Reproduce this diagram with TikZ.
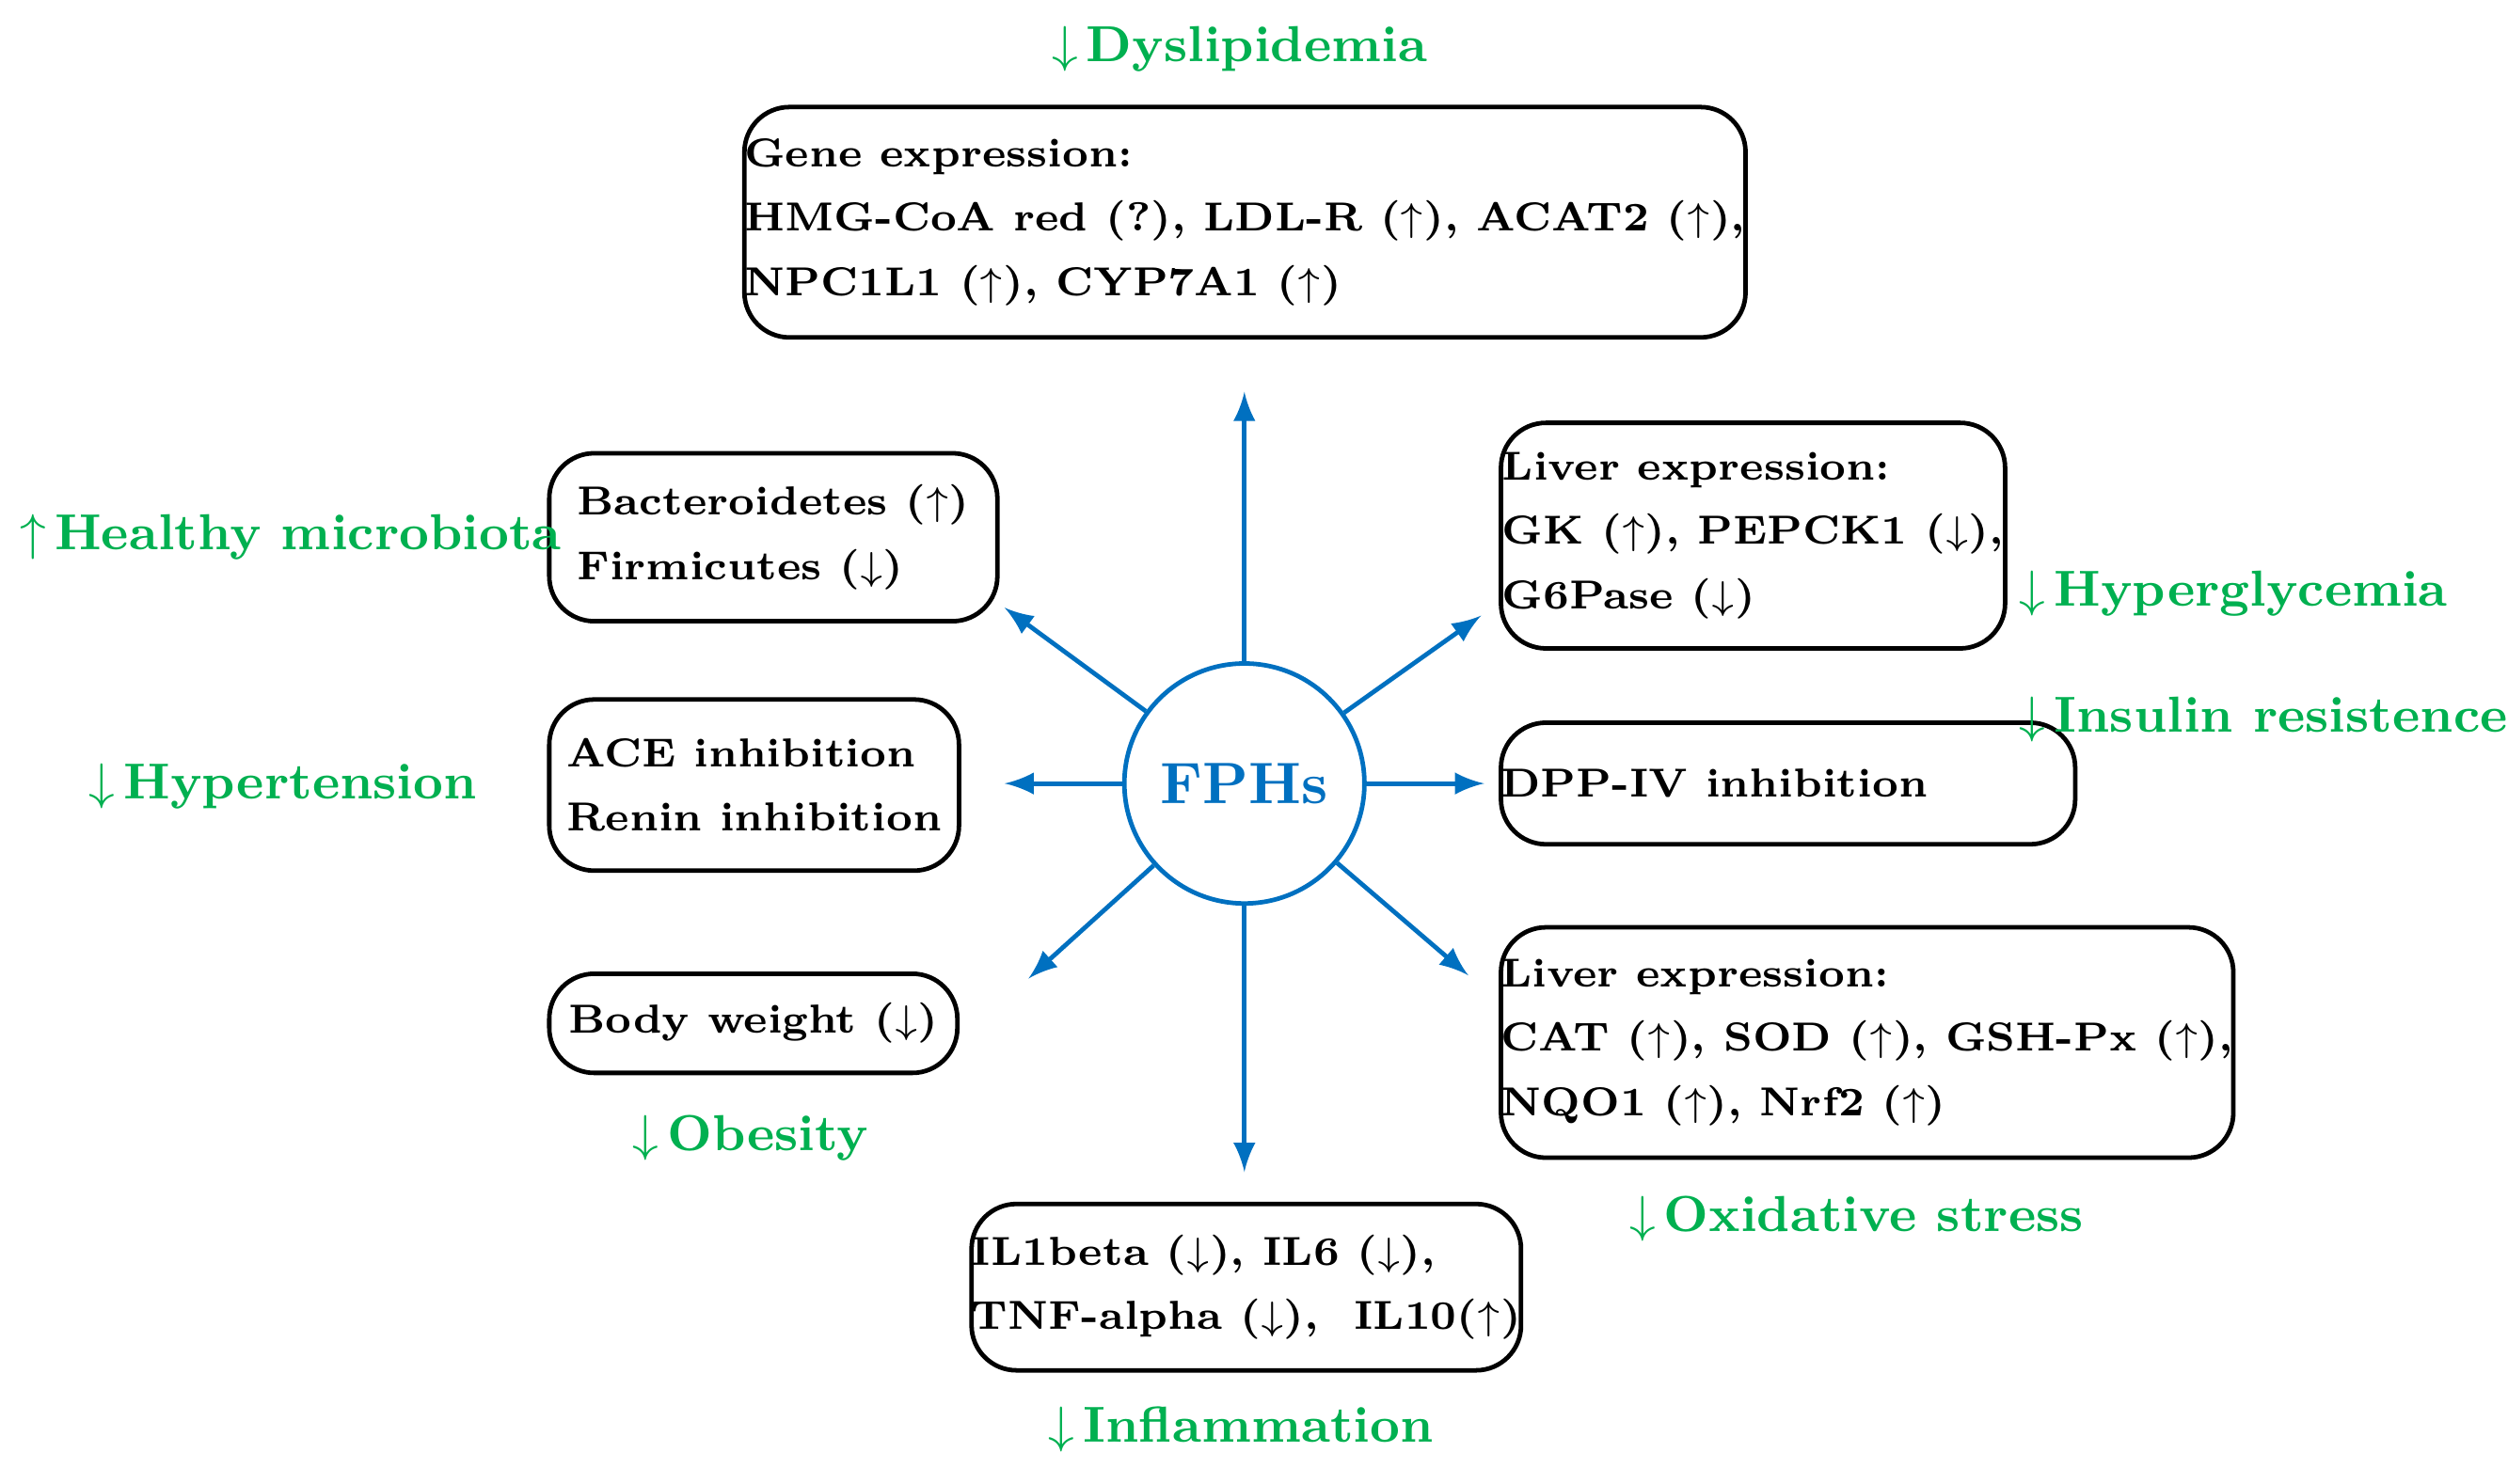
\documentclass[tikz,border=0pt]{standalone}
\usetikzlibrary{positioning}
\definecolor{fgreen}{RGB}{0,176,80}
\definecolor{fblue}{RGB}{0,112,192}
\tikzstyle{box} = [rectangle, rounded corners=8pt, draw=black, thick, anchor=west, align=left, inner sep=0pt, font=\fontsize{7.2}{11.4}\selectfont\bfseries]
\tikzstyle{effect} = [text=fgreen, inner sep=0pt, font=\fontsize{9}{12}\selectfont\bfseries]
\tikzstyle{arrow} = [fblue, thick, -latex]
\newcommand{\up}{$\uparrow$}
\newcommand{\dn}{$\downarrow$}

\begin{document}
\begin{tikzpicture}[x=0.01cm, y=-0.01cm]
\useasboundingbox (0,0) rectangle (1568,928);
%中心
\node (FPH) [circle, draw=fblue, thick, minimum size=1.5cm, inner sep=0pt, text=fblue, font=\fontsize{10.4}{12}\selectfont\bfseries] at (778,490) {FPHs};

%方框
\node (Gene) [box, minimum width=6.24cm, minimum height=1.44cm] at (464,139) {Gene expression:\\HMG-CoA red (?), LDL-R (\up), ACAT2 (\up),\\NPC1L1 (\up), CYP7A1 (\up)\hphantom{, ACAT2 (\up),}};
\node (Micro) [box, minimum width=2.8cm, minimum height=1.05cm] at (342,336) {Bacteroidetes (\up)\\Firmicutes (\dn)};
\node (Glu) [box, minimum width=3.15cm, minimum height=1.41cm] at (937,335) {Liver expression:\\GK (\up), PEPCK1 (\dn),\\G6Pase (\dn)};
\node (ACE) [box, minimum width=2.56cm, minimum height=1.07cm] at (342,491) {ACE inhibition\\Renin inhibition};
\node (DPP) [box, minimum width=3.15cm, minimum height=0.76cm] at (937,490) {DPP-IV inhibition\hphantom{MMM}};
\node (BW) [box, minimum width=2.55cm, minimum height=0.62cm] at (342,640) {Body weight (\dn)};
\node (Ox) [box, minimum width=4.36cm, minimum height=1.44cm] at (937,652) {Liver expression:\\CAT (\up), SOD (\up), GSH-Px (\up),\\NQO1 (\up), Nrf2 (\up)};
\node (IL) [box, minimum width=3.41cm, minimum height=1.04cm] at (606,805) {IL1beta (\dn), IL6 (\dn),\\TNF-alpha (\dn), \ IL10(\up)};

%效果
\node (Dys) [effect] at (775,31) {\dn\,Dyslipidemia};
\node (Hea) [effect, anchor=west] at (12,336) {\up\,Healthy microbiota};
\node (Hgl) [effect, anchor=west] at (1262,371) {\dn\,Hyperglycemia};
\node (Ins) [effect, anchor=west] at (1262,450) {\dn\,Insulin resistence};
\node (Hyp) [effect, anchor=west] at (55,492) {\dn\,Hypertension};
\node (Obe) [effect, anchor=west] at (395,712) {\dn\,Obesity};
\node (Oxs) [effect, anchor=west] at (1018,762) {\dn\,Oxidative stress};
\node (Inf) [effect, anchor=west] at (655,894) {\dn\,Inflammation};

%箭头
\coordinate (aU) at (778,245);
\coordinate (aD) at (778,733);
\coordinate (aL) at (628,490);
\coordinate (aR) at (928,490);
\coordinate (aUL) at (628,380);
\coordinate (aUR) at (926,385);
\coordinate (aDL) at (643,612);
\coordinate (aDR) at (918,610);
\draw [arrow](FPH.north) -- (aU);
\draw [arrow](FPH.south) -- (aD);
\draw [arrow](FPH.west) -- (aL);
\draw [arrow](FPH.east) -- (aR);
\draw [arrow](FPH) -- (aUL);
\draw [arrow](FPH) -- (aUR);
\draw [arrow](FPH) -- (aDL);
\draw [arrow](FPH) -- (aDR);
\end{tikzpicture}
\end{document}
